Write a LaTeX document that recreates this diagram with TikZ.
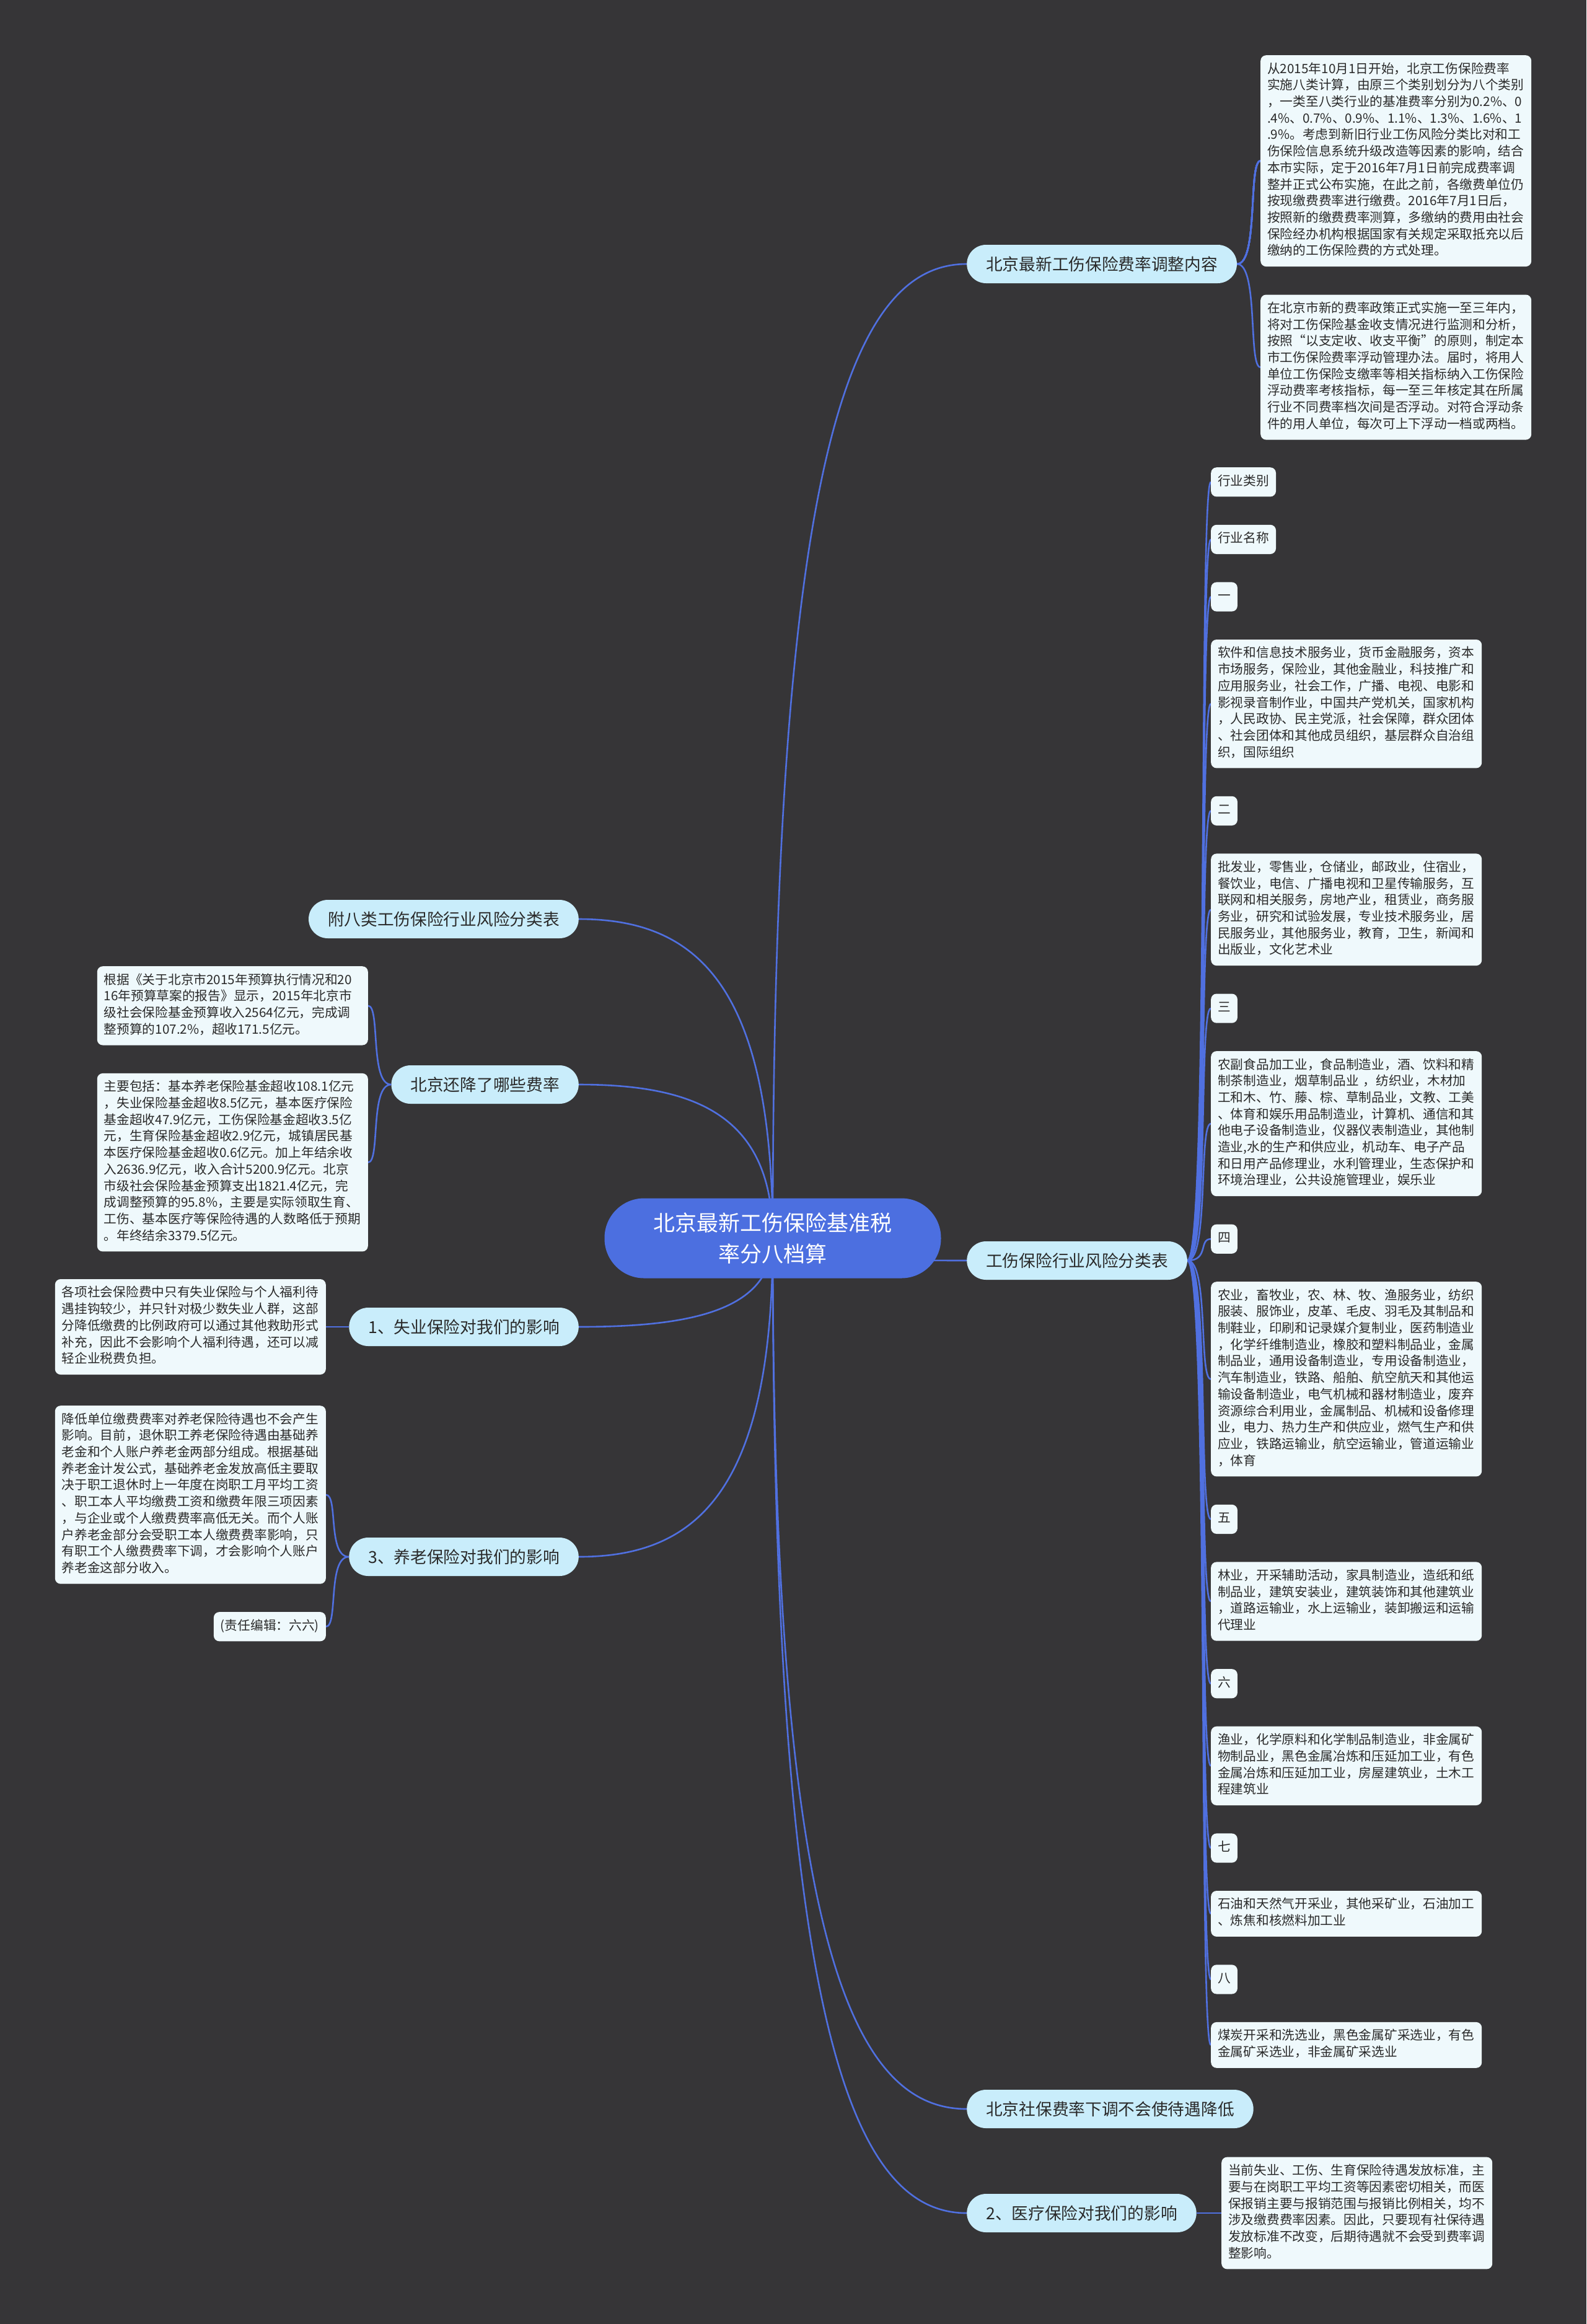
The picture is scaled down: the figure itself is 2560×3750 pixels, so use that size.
\documentclass[tikz,border=0pt]{standalone}
\usepackage{fontspec}
\setmainfont{Noto Sans CJK SC}
\usetikzlibrary{calc, positioning, backgrounds}

\definecolor{bgdark}{HTML}{363537}
\definecolor{hubblue}{HTML}{4C6FE0}
\definecolor{topicblue}{HTML}{C9EDFB}
\definecolor{notewhite}{HTML}{EFF9FC}
\definecolor{linkblue}{HTML}{5070E0}
\definecolor{ink}{HTML}{2A2A2A}

% curve from the centre of the map to a topic
\newcommand{\hublink}[2]{\draw[link] (#1) .. controls ($(#1)!0.8!(#1|-#2)$) and ($(#2)!0.6!(#1|-#2)$) .. (#2);}

\begin{document}
\begin{tikzpicture}[
  x=1pt, y=-1pt,
  hub/.style={fill=hubblue, text=white, font=\fontsize{35}{50}\selectfont, align=center, minimum width=543pt, minimum height=129pt, rounded corners=64pt},
  topic/.style={fill=topicblue, text=ink, font=\fontsize{26.7}{32}\selectfont, minimum height=62pt, inner xsep=31pt, inner ysep=0pt, rounded corners=31pt},
  note/.style={fill=notewhite, text=ink, font=\fontsize{20.7}{26.7}\selectfont, align=left, inner xsep=11pt, inner ysep=10.25pt, rounded corners=9pt, execute at begin node=\strut, execute at end node=\strut},
  wide/.style={text width=415pt},
  link/.style={draw=linkblue, line width=2.6pt},
  twig/.style={to path={.. controls +(35,0) and +(-20,0) .. (\tikztotarget)}},
  twigleft/.style={to path={.. controls +(-35,0) and +(20,0) .. (\tikztotarget)}}
]

% Central topic
\node[hub] (root) at (1247,1998) {北京最新工伤保险基准税\\率分八档算};

% Main topics
\node[topic, anchor=west] (adjust) at (1560,426) {北京最新工伤保险费率调整内容};
\node[topic, anchor=east] (appendix) at (934,1483) {附八类工伤保险行业风险分类表};
\node[topic, anchor=east] (lowered) at (934,1750) {北京还降了哪些费率};
\node[topic, anchor=west] (risk) at (1560,2034) {工伤保险行业风险分类表};
\node[topic, anchor=east] (jobless) at (934,2141) {1、失业保险对我们的影响};
\node[topic, anchor=east] (pension) at (934,2512) {3、养老保险对我们的影响};
\node[topic, anchor=west] (nodrop) at (1560,3403) {北京社保费率下调不会使待遇降低};
\node[topic, anchor=west] (medical) at (1560,3571) {2、医疗保险对我们的影响};

% Notes of the rate adjustment
\node[note, wide, anchor=north west] (adjustA) at (2034,89) {从2015年10月1日开始，北京工伤保险费率\\实施八类计算，由原三个类别划分为八个类别\\，一类至八类行业的基准费率分别为0.2\%、0\\.4\%、0.7\%、0.9\%、1.1\%、1.3\%、1.6\%、1\\.9\%。考虑到新旧行业工伤风险分类比对和工\\伤保险信息系统升级改造等因素的影响，结合\\本市实际，定于2016年7月1日前完成费率调\\整并正式公布实施，在此之前，各缴费单位仍\\按现缴费费率进行缴费。2016年7月1日后，\\按照新的缴费费率测算，多缴纳的费用由社会\\保险经办机构根据国家有关规定采取抵充以后\\缴纳的工伤保险费的方式处理。};
\node[note, wide, below=45pt of adjustA.south west, anchor=north west] (adjustB) {在北京市新的费率政策正式实施一至三年内，\\将对工伤保险基金收支情况进行监测和分析，\\按照“以支定收、收支平衡”的原则，制定本\\市工伤保险费率浮动管理办法。届时，将用人\\单位工伤保险支缴率等相关指标纳入工伤保险\\浮动费率考核指标，每一至三年核定其在所属\\行业不同费率档次间是否浮动。对符合浮动条\\件的用人单位，每次可上下浮动一档或两档。};

% Notes of the lowered rates
\node[note, wide, anchor=north east] (loweredA) at (594,1559) {根据《关于北京市2015年预算执行情况和20\\16年预算草案的报告》显示，2015年北京市\\级社会保险基金预算收入2564亿元，完成调\\整预算的107.2\%，超收171.5亿元。};
\node[note, wide, below=45pt of loweredA.south east, anchor=north east] (loweredB) {主要包括：基本养老保险基金超收108.1亿元\\，失业保险基金超收8.5亿元，基本医疗保险\\基金超收47.9亿元，工伤保险基金超收3.5亿\\元，生育保险基金超收2.9亿元，城镇居民基\\本医疗保险基金超收0.6亿元。加上年结余收\\入2636.9亿元，收入合计5200.9亿元。北京\\市级社会保险基金预算支出1821.4亿元，完\\成调整预算的95.8\%，主要是实际领取生育、\\工伤、基本医疗等保险待遇的人数略低于预期\\。年终结余3379.5亿元。};

% Notes of the insurances
\node[note, wide, anchor=east] (joblessA) at (526,2141) {各项社会保险费中只有失业保险与个人福利待\\遇挂钩较少，并只针对极少数失业人群，这部\\分降低缴费的比例政府可以通过其他救助形式\\补充，因此不会影响个人福利待遇，还可以减\\轻企业税费负担。};
\node[note, wide, anchor=north east] (pensionA) at (526,2268) {降低单位缴费费率对养老保险待遇也不会产生\\影响。目前，退休职工养老保险待遇由基础养\\老金和个人账户养老金两部分组成。根据基础\\养老金计发公式，基础养老金发放高低主要取\\决于职工退休时上一年度在岗职工月平均工资\\、职工本人平均缴费工资和缴费年限三项因素\\，与企业或个人缴费费率高低无关。而个人账\\户养老金部分会受职工本人缴费费率影响，只\\有职工个人缴费费率下调，才会影响个人账户\\养老金这部分收入。};
\node[note, below=45pt of pensionA.south east, anchor=north east] (pensionB) {(责任编辑：六六)};
\node[note, wide, anchor=west] (medicalA) at (1971,3571) {当前失业、工伤、生育保险待遇发放标准，主\\要与在岗职工平均工资等因素密切相关，而医\\保报销主要与报销范围与报销比例相关，均不\\涉及缴费费率因素。因此，只要现有社保待遇\\发放标准不改变，后期待遇就不会受到费率调\\整影响。};

% Risk table column
\node[note, anchor=north west] (kind) at (1954,754) {行业类别};
\node[note, below=45pt of kind.south west, anchor=north west] (trade) {行业名称};
\node[note, below=45pt of trade.south west, anchor=north west] (g1) {一};
\node[note, wide, below=45pt of g1.south west, anchor=north west] (s1) {软件和信息技术服务业，货币金融服务，资本\\市场服务，保险业，其他金融业，科技推广和\\应用服务业，社会工作，广播、电视、电影和\\影视录音制作业，中国共产党机关，国家机构\\，人民政协、民主党派，社会保障，群众团体\\、社会团体和其他成员组织，基层群众自治组\\织，国际组织};
\node[note, below=45pt of s1.south west, anchor=north west] (g2) {二};
\node[note, wide, below=45pt of g2.south west, anchor=north west] (s2) {批发业，零售业，仓储业，邮政业，住宿业，\\餐饮业，电信、广播电视和卫星传输服务，互\\联网和相关服务，房地产业，租赁业，商务服\\务业，研究和试验发展，专业技术服务业，居\\民服务业，其他服务业，教育，卫生，新闻和\\出版业，文化艺术业};
\node[note, below=45pt of s2.south west, anchor=north west] (g3) {三};
\node[note, wide, below=45pt of g3.south west, anchor=north west] (s3) {农副食品加工业，食品制造业，酒、饮料和精\\制茶制造业，烟草制品业 ，纺织业，木材加\\工和木、竹、藤、棕、草制品业，文教、工美\\、体育和娱乐用品制造业，计算机、通信和其\\他电子设备制造业，仪器仪表制造业，其他制\\造业,水的生产和供应业，机动车、电子产品\\和日用产品修理业，水利管理业，生态保护和\\环境治理业，公共设施管理业，娱乐业};
\node[note, below=45pt of s3.south west, anchor=north west] (g4) {四};
\node[note, wide, below=45pt of g4.south west, anchor=north west] (s4) {农业，畜牧业，农、林、牧、渔服务业，纺织\\服装、服饰业，皮革、毛皮、羽毛及其制品和\\制鞋业，印刷和记录媒介复制业，医药制造业\\，化学纤维制造业，橡胶和塑料制品业，金属\\制品业，通用设备制造业，专用设备制造业，\\汽车制造业，铁路、船舶、航空航天和其他运\\输设备制造业，电气机械和器材制造业，废弃\\资源综合利用业，金属制品、机械和设备修理\\业，电力、热力生产和供应业，燃气生产和供\\应业，铁路运输业，航空运输业，管道运输业\\，体育};
\node[note, below=45pt of s4.south west, anchor=north west] (g5) {五};
\node[note, wide, below=45pt of g5.south west, anchor=north west] (s5) {林业，开采辅助活动，家具制造业，造纸和纸\\制品业，建筑安装业，建筑装饰和其他建筑业\\，道路运输业，水上运输业，装卸搬运和运输\\代理业};
\node[note, below=45pt of s5.south west, anchor=north west] (g6) {六};
\node[note, wide, below=45pt of g6.south west, anchor=north west] (s6) {渔业，化学原料和化学制品制造业，非金属矿\\物制品业，黑色金属冶炼和压延加工业，有色\\金属冶炼和压延加工业，房屋建筑业，土木工\\程建筑业};
\node[note, below=45pt of s6.south west, anchor=north west] (g7) {七};
\node[note, wide, below=45pt of g7.south west, anchor=north west] (s7) {石油和天然气开采业，其他采矿业，石油加工\\、炼焦和核燃料加工业};
\node[note, below=45pt of s7.south west, anchor=north west] (g8) {八};
\node[note, wide, below=45pt of g8.south west, anchor=north west] (s8) {煤炭开采和洗选业，黑色金属矿采选业，有色\\金属矿采选业，非金属矿采选业};

% Background and connectors
\begin{scope}[on background layer]
  \fill[bgdark] (0,0) rectangle (2560,3750);
  \foreach \t in {adjust.west, appendix.east, lowered.east, risk.west, jobless.east, pension.east, nodrop.west, medical.west}
    \hublink{root.center}{\t}
  \draw[link] (adjust.east) to[twig] (adjustA.west);
  \draw[link] (adjust.east) to[twig] (adjustB.west);
  \draw[link] (lowered.west) to[twigleft] (loweredA.east);
  \draw[link] (lowered.west) to[twigleft] (loweredB.east);
  \draw[link] (jobless.west) to[twigleft] (joblessA.east);
  \draw[link] (pension.west) to[twigleft] (pensionA.east);
  \draw[link] (pension.west) to[twigleft] (pensionB.east);
  \draw[link] (medical.east) to[twig] (medicalA.west);
  \foreach \c in {kind, trade, g1, s1, g2, s2, g3, s3, g4, s4, g5, s5, g6, s6, g7, s7, g8, s8}
    \draw[link] (risk.east) to[twig] (\c.west);
\end{scope}

\end{tikzpicture}
\end{document}
